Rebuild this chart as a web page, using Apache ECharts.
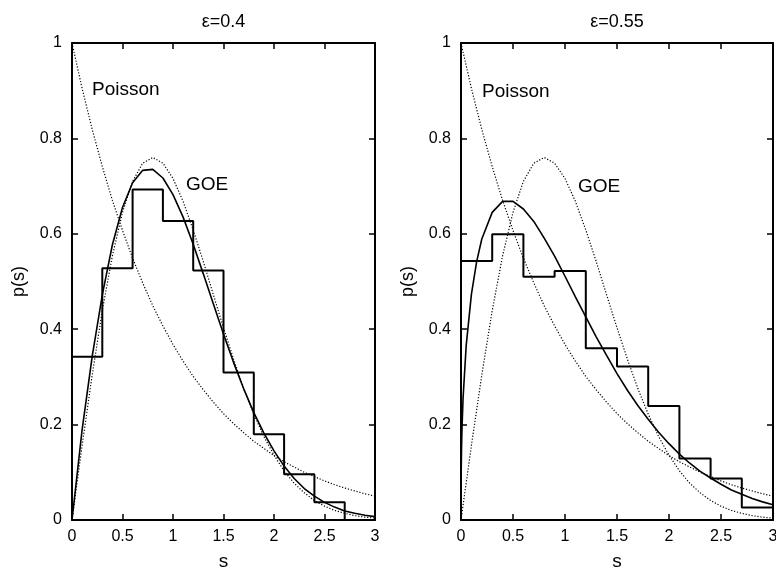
<!DOCTYPE html>
<html>
<head>
<meta charset="utf-8">
<script src="https://cdn.jsdelivr.net/npm/echarts@6/dist/echarts.min.js"></script>
<style>
html,body{margin:0;padding:0;background:#fff;}
#chart{width:776px;height:568px;}
</style>
</head>
<body>
<div id="chart"></div>
<script>
// ---- data ----
const panelTitles = ['ε=0.4', 'ε=0.55'];
const xTicks = [0, 0.5, 1, 1.5, 2, 2.5, 3];
const yTicks = [0, 0.2, 0.4, 0.6, 0.8, 1];

// histogram bins (left edges, width 0.3)
const binEdges = [0, 0.3, 0.6, 0.9, 1.2, 1.5, 1.8, 2.1, 2.4, 2.7];
const histLeft  = [0.342, 0.528, 0.693, 0.627, 0.523, 0.309, 0.180, 0.096, 0.037, 0.0];
const histRight = [0.543, 0.599, 0.510, 0.522, 0.360, 0.322, 0.239, 0.129, 0.087, 0.026];

// curves sampled along s
const sGrid = [0,0.1,0.2,0.3,0.4,0.5,0.6,0.7,0.8,0.9,1.0,1.1,1.2,1.3,1.4,1.5,1.6,1.7,1.8,1.9,2.0,2.1,2.2,2.3,2.4,2.5,2.6,2.7,2.8,2.9,3.0];
const poisson = [1,0.905,0.819,0.741,0.670,0.607,0.549,0.497,0.449,0.407,0.368,0.333,0.301,0.273,0.247,0.223,0.202,0.183,0.165,0.150,0.135,0.122,0.111,0.100,0.091,0.082,0.074,0.067,0.061,0.055,0.050];
const goe = [0,0.156,0.304,0.439,0.554,0.645,0.710,0.748,0.760,0.748,0.716,0.668,0.608,0.542,0.472,0.403,0.337,0.276,0.222,0.175,0.136,0.103,0.077,0.057,0.041,0.029,0.020,0.014,0.009,0.006,0.004];
const fitLeft = [0,0.189,0.343,0.472,0.577,0.655,0.707,0.733,0.735,0.717,0.682,0.635,0.578,0.516,0.453,0.390,0.330,0.275,0.225,0.182,0.145,0.113,0.087,0.066,0.050,0.037,0.027,0.019,0.014,0.010,0.007];
const sFine = [0,0.002,0.005,0.01,0.02,0.05,0.1,0.15,0.2,0.3,0.4,0.5,0.6,0.7,0.8,0.9,1.0,1.1,1.2,1.3,1.4,1.5,1.6,1.7,1.8,1.9,2.0,2.1,2.2,2.3,2.4,2.5,2.6,2.7,2.8,2.9,3.0];
const fitRight = [0,0.102,0.148,0.195,0.256,0.366,0.473,0.541,0.589,0.645,0.668,0.668,0.652,0.626,0.591,0.553,0.511,0.468,0.426,0.384,0.345,0.307,0.272,0.240,0.211,0.184,0.160,0.138,0.119,0.102,0.088,0.075,0.063,0.054,0.045,0.038,0.032];

// ---- build chart ----
const FONT = 'Liberation Sans, Arial, Helvetica, sans-serif';
const chart = echarts.init(document.getElementById('chart'), null, {renderer: 'canvas'});

function zip(xs, ys) { return xs.map((x, i) => [x, ys[i]]); }
function histData(edges, vals) {
  const d = edges.map((e, i) => [e, vals[i]]);
  d.push([xTicks[xTicks.length - 1], vals[vals.length - 1]]);
  return d;
}

const grids = [
  {left: 72, top: 43, width: 303, height: 477, containLabel: false, outerBoundsMode: 'none'},
  {left: 461, top: 43, width: 312, height: 477, containLabel: false, outerBoundsMode: 'none'}
];

const axisLineStyle = {color: '#000', width: 2};
const tickStyle = {color: '#000', width: 1.5};
const xAxes = [], yAxes = [];
grids.forEach((g, gi) => {
  xAxes.push({
    gridIndex: gi, type: 'value', min: xTicks[0], max: xTicks[xTicks.length - 1], interval: xTicks[1] - xTicks[0],
    position: 'bottom',
    name: 's', nameLocation: 'middle', nameGap: 32,
    nameTextStyle: {fontSize: 19, color: '#000', fontFamily: FONT},
    axisLine: {show: true, onZero: false, lineStyle: axisLineStyle},
    axisTick: {show: true, inside: true, length: 6, lineStyle: tickStyle},
    axisLabel: {show: true, fontSize: 16, color: '#000', margin: 9, fontFamily: FONT, showMinLabel: true, showMaxLabel: true, hideOverlap: false},
    splitLine: {show: false}
  });
  xAxes.push({
    gridIndex: gi, type: 'value', min: xTicks[0], max: xTicks[xTicks.length - 1], interval: xTicks[1] - xTicks[0],
    position: 'top',
    axisLine: {show: true, onZero: false, lineStyle: axisLineStyle},
    axisTick: {show: true, inside: true, length: 6, lineStyle: tickStyle},
    axisLabel: {show: false},
    splitLine: {show: false}
  });
  yAxes.push({
    gridIndex: gi, type: 'value', min: yTicks[0], max: yTicks[yTicks.length - 1], interval: yTicks[1] - yTicks[0],
    position: 'left',
    name: 'p(s)', nameLocation: 'middle', nameGap: 44, nameRotate: 90,
    nameTextStyle: {fontSize: 18, color: '#000', fontFamily: FONT},
    axisLine: {show: true, onZero: false, lineStyle: axisLineStyle},
    axisTick: {show: true, inside: true, length: 6, lineStyle: tickStyle},
    axisLabel: {show: true, fontSize: 16, color: '#000', margin: 10, fontFamily: FONT, showMinLabel: true, showMaxLabel: true},
    splitLine: {show: false}
  });
  yAxes.push({
    gridIndex: gi, type: 'value', min: yTicks[0], max: yTicks[yTicks.length - 1], interval: yTicks[1] - yTicks[0],
    position: 'right',
    axisLine: {show: true, onZero: false, lineStyle: axisLineStyle},
    axisTick: {show: true, inside: true, length: 6, lineStyle: tickStyle},
    axisLabel: {show: false},
    splitLine: {show: false}
  });
});

function curve(gi, data, style) {
  return {
    type: 'line', xAxisIndex: gi * 2, yAxisIndex: gi * 2, data: data,
    showSymbol: false, symbol: 'none', smooth: false, clip: true,
    lineStyle: style, silent: true, animation: false
  };
}
const dotted = {color: '#000', width: 1.2, type: [1.2, 1.8]};
const solid = {color: '#000', width: 1.6};

const series = [];
[[histLeft, fitLeft, sGrid], [histRight, fitRight, sFine]].forEach((p, gi) => {
  series.push({
    type: 'line', xAxisIndex: gi * 2, yAxisIndex: gi * 2, data: histData(binEdges, p[0]),
    step: 'end', showSymbol: false, symbol: 'none', clip: true,
    lineStyle: {color: '#000', width: 2}, silent: true, animation: false
  });
  series.push(curve(gi, zip(sGrid, poisson), dotted));
  series.push(curve(gi, zip(sGrid, goe), dotted));
  series.push(curve(gi, zip(p[2], p[1]), solid));
});

const titles = panelTitles.map((t, i) => ({
  text: t, left: grids[i].left + grids[i].width / 2, top: 13, textAlign: 'center', padding: 0,
  textStyle: {fontSize: 18, fontWeight: 'normal', color: '#000', fontFamily: FONT}
}));

function label(txt, x, y) {
  return {type: 'text', x: x, y: y, silent: true,
    style: {text: txt, fill: '#000', font: '19px ' + FONT, verticalAlign: 'middle', align: 'left'}};
}

chart.setOption({
  animation: false,
  backgroundColor: '#fff',
  title: titles,
  grid: grids,
  xAxis: xAxes,
  yAxis: yAxes,
  series: series,
  graphic: [
    label('Poisson', 92, 90),
    label('GOE', 186, 185),
    label('Poisson', 482, 92),
    label('GOE', 578, 187)
  ]
});
</script>
</body>
</html>
